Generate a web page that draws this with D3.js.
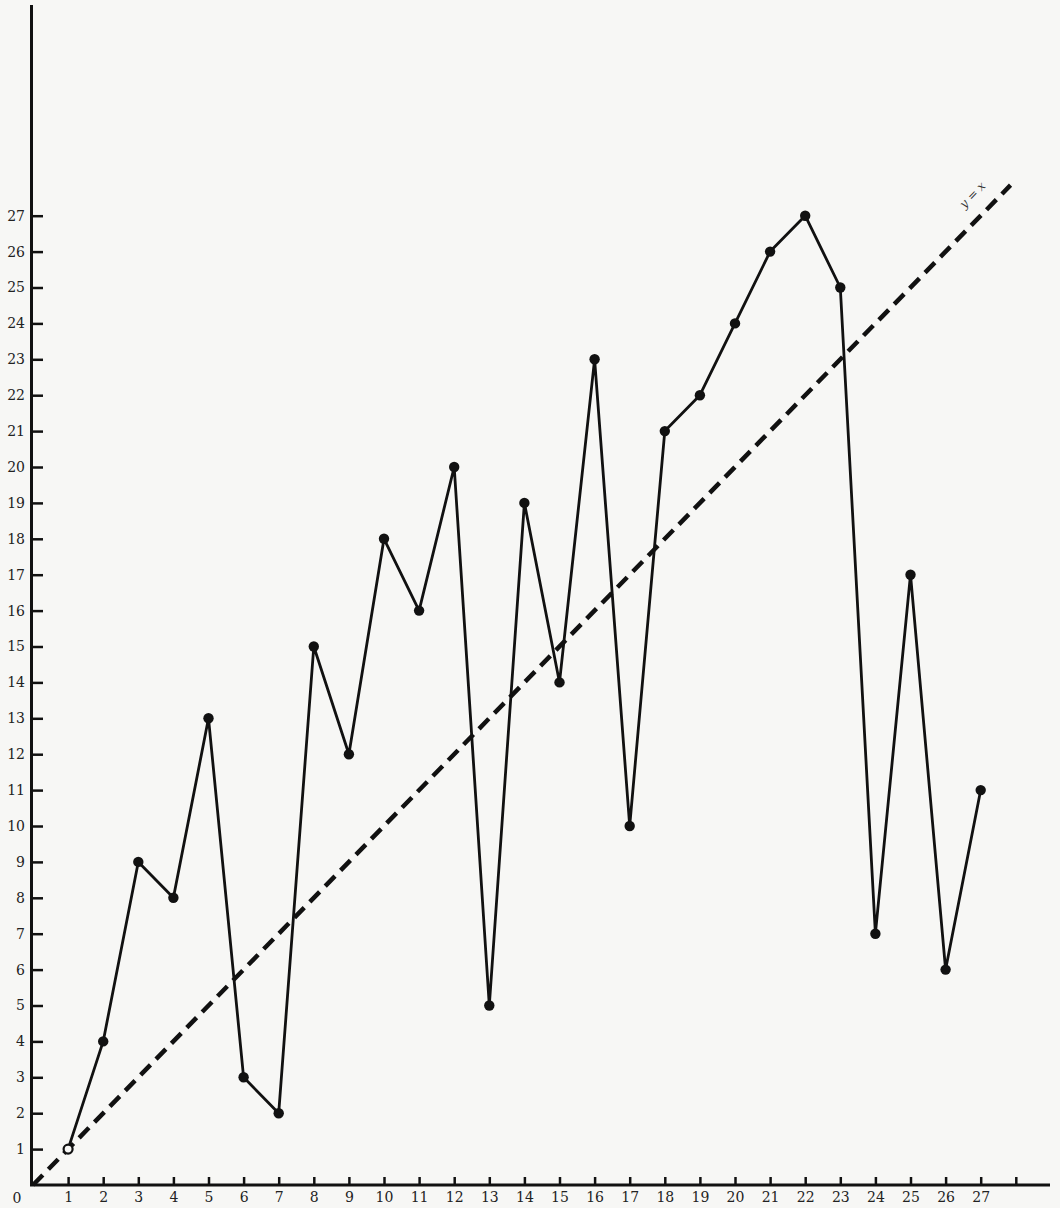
<!DOCTYPE html>
<html><head><meta charset="utf-8">
<script src="https://cdn.jsdelivr.net/npm/d3@7"></script>
<style>
html,body{margin:0;padding:0;background:#f7f7f5;}
svg{display:block;}
.tk text{font-family:"DejaVu Serif","Liberation Serif",serif;font-size:14px;fill:#222;}
</style></head>
<body>
<svg id="c" width="1060" height="1208"></svg>
<script>
const xValues = [1,2,3,4,5,6,7,8,9,10,11,12,13,14,15,16,17,18,19,20,21,22,23,24,25,26,27];
const yValues = [1,4,9,8,13,3,2,15,12,18,16,20,5,19,14,23,10,21,22,24,26,27,25,7,17,6,11];
const xTicks = d3.range(1,29);
const yTicks = d3.range(1,28);
const xTickLabels = xTicks.map(d => d <= 27 ? String(d) : "");
const lineLabel = "y = x";

const svg = d3.select("#c");
const x = d3.scaleLinear().domain([0,28]).range([33, 33+28*35.1]);
const y = d3.scaleLinear().domain([0,27]).range([1185, 1185-27*35.9]);

// x axis
const gx = svg.append("g").attr("class","tk").attr("transform","translate(0,1185)")
  .call(d3.axisBottom(x).tickValues(xTicks).tickSize(-8).tickPadding(7)
    .tickFormat((d,i) => xTickLabels[i]));
gx.select(".domain").remove();
gx.selectAll(".tick line").attr("stroke","#111").attr("stroke-width",2.5);

// y axis
const gy = svg.append("g").attr("class","tk").attr("transform","translate(33,0)")
  .call(d3.axisLeft(y).tickValues(yTicks).tickSize(-10).tickPadding(8));
gy.select(".domain").remove();
gy.selectAll(".tick line").attr("stroke","#111").attr("stroke-width",2.5);

// axis lines
svg.append("line").attr("x1",x(0)).attr("x2",1050).attr("y1",y(0)).attr("y2",y(0))
  .attr("stroke","#111").attr("stroke-width",3);
svg.append("line").attr("x1",x(0)-1.5).attr("x2",x(0)-1.5).attr("y1",5).attr("y2",y(0)+1.5)
  .attr("stroke","#111").attr("stroke-width",3);

svg.append("text").attr("x",17).attr("y",1203).attr("text-anchor","middle")
  .style("font-family","DejaVu Serif, Liberation Serif, serif").style("font-size","14px").attr("fill","#222").text("0");

// y = x dashed line
const lEnd = 27.85;
svg.append("line").attr("x1",x(0)).attr("y1",y(0)).attr("x2",x(lEnd)).attr("y2",y(lEnd))
  .attr("stroke","#111").attr("stroke-width",4.5).attr("stroke-dasharray","14,8");
const ang = Math.atan2(y(lEnd)-y(0), x(lEnd)-x(0))*180/Math.PI;
svg.append("text").attr("transform",`translate(${x(26.85)},${y(27.5)}) rotate(${ang})`)
  .attr("text-anchor","middle")
  .style("font-family","DejaVu Serif, Liberation Serif, serif").style("font-size","12px")
  .style("font-style","italic").attr("fill","#333").text(lineLabel);

// data line
const pts = xValues.map((d,i)=>[d,yValues[i]]);
svg.append("path").datum(pts)
  .attr("d", d3.line().x(d=>x(d[0])).y(d=>y(d[1])))
  .attr("fill","none").attr("stroke","#111").attr("stroke-width",2.8).attr("stroke-linejoin","round");
svg.selectAll("circle.p").data(pts).join("circle").attr("class","p")
  .attr("cx",d=>x(d[0])).attr("cy",d=>y(d[1])).attr("r",(d,i)=> i===0?4.5:5.2)
  .attr("fill",(d,i)=> i===0 ? "#f7f7f5" : "#111")
  .attr("stroke","#111").attr("stroke-width",(d,i)=> i===0?2.2:0);
</script>
</body></html>
